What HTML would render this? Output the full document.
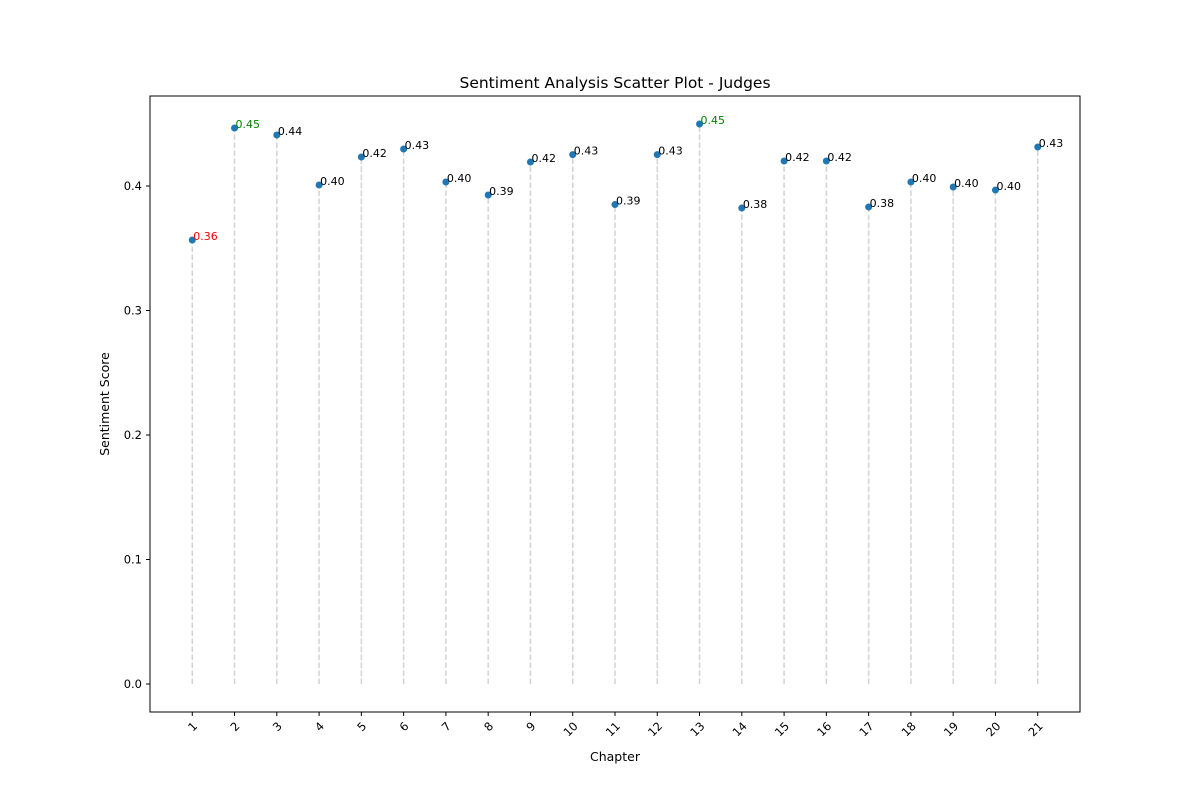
<!DOCTYPE html>
<html><head><meta charset="utf-8"><style>
body{margin:0;background:#fff;font-family:"Liberation Sans","DejaVu Sans",sans-serif}
</style></head><body>
<svg id="chart" width="1200" height="800" xmlns="http://www.w3.org/2000/svg" font-family="'DejaVu Sans','Liberation Sans',sans-serif">
<rect width="1200" height="800" fill="#fff"/>
<text x="615" y="88" text-anchor="middle" font-size="15.5">Sentiment Analysis Scatter Plot - Judges</text>
<g id="plot"></g>
<rect x="150" y="96" width="930" height="616" fill="none" stroke="#000" stroke-width="1"/>
<text x="615" y="761" text-anchor="middle" font-size="12.5">Chapter</text>
<text transform="translate(109,404) rotate(-90)" text-anchor="middle" font-size="12.5">Sentiment Score</text>
</svg>
<script>
const chapters=[1,2,3,4,5,6,7,8,9,10,11,12,13,14,15,16,17,18,19,20,21];
const scores=[0.3566,0.4466,0.441,0.4008,0.4233,0.4297,0.4032,0.3928,0.4193,0.4252,0.3851,0.4252,0.4498,0.3823,0.4201,0.4201,0.3831,0.4032,0.3992,0.3968,0.4313];
const yTicks=[0,0.1,0.2,0.3,0.4];
const L=150,R=1080,T=96,B=712;
const xMin=0,xMax=22,yMin=-0.0225,yMax=0.4723;
const sx=v=>L+(v-xMin)/(xMax-xMin)*(R-L);
const sy=v=>B-(v-yMin)/(yMax-yMin)*(B-T);
const NS="http://www.w3.org/2000/svg";
const g=document.getElementById('plot');
function mk(t,a){const e=document.createElementNS(NS,t);for(const k in a)e.setAttribute(k,a[k]);g.appendChild(e);return e;}
yTicks.forEach(v=>{
 const l=mk('line',{x1:L-4,x2:L,y1:sy(v),y2:sy(v),stroke:'#000'});
 
 
 const t=mk('text',{x:L-8,y:sy(v)+4,'text-anchor':'end','font-size':11.5});
 
 
 t.textContent=v.toFixed(1);
});
const mn=Math.min(...scores);
chapters.forEach((c,i)=>{
 const x=sx(c),y=sy(scores[i]);
 const tk=mk('line',{x1:x,x2:x,y1:B,y2:B+4,stroke:'#000'});
 
 
 const tl=mk('text',{transform:`translate(${x+3},${B+12}) rotate(-45)`,'text-anchor':'end','font-size':11.5,dy:'4'});
 
 
 tl.textContent=c;
 const st=mk('line',{x1:x,x2:x,y1:sy(0),y2:y,stroke:'#d3d3d3','stroke-width':1.5,'stroke-dasharray':'5.5,2.5'});
 
 
 const p=mk('circle',{cx:x,cy:y,r:3.5,fill:'#1f77b4'});
 
 
 const col=scores[i]===mn?'red':(scores[i]>=0.445?'green':'#000');
 const lb=mk('text',{x:x+1,y:y,'font-size':11,fill:col});
 
 
 lb.textContent=scores[i].toFixed(2);
});
</script>
</body></html>
